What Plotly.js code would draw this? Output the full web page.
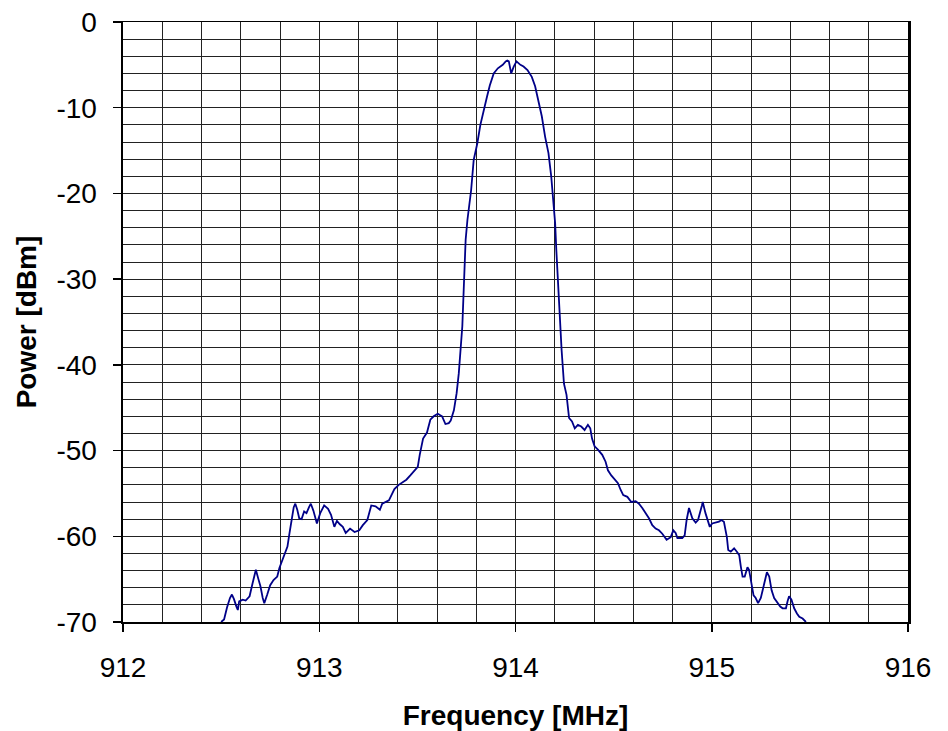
<!DOCTYPE html>
<html>
<head>
<meta charset="utf-8">
<script src="https://cdn.plot.ly/plotly-3.0.1.min.js"></script>
<style>html,body{margin:0;padding:0;background:#fff}#chart{width:948px;height:731px}</style>
</head>
<body>
<div id="chart"></div>
<script>
// Frequency [MHz]
const freq = [
912.500,912.515,912.530,912.545,912.555,912.565,912.578,912.585,912.592,912.610,
912.625,912.635,912.645,912.660,912.670,912.677,912.690,912.700,912.712,912.720,
912.735,912.750,912.767,912.786,912.797,912.820,912.838,912.848,912.860,912.870,
912.878,912.888,912.898,912.910,912.923,912.935,912.948,912.957,912.970,912.980,
912.988,913.005,913.025,913.045,913.060,913.077,913.090,913.105,913.120,913.135,
913.157,913.180,913.204,913.222,913.245,913.265,913.287,913.309,913.321,913.355,
913.383,913.405,913.444,913.464,913.485,913.502,913.512,913.529,913.549,913.566,
913.583,913.604,913.626,913.643,913.660,913.670,913.686,913.700,913.711,913.723,
913.729,913.736,913.741,913.746,913.755,913.774,913.787,913.805,913.821,913.835,
913.855,913.869,913.889,913.910,913.935,913.950,913.958,913.966,913.978,913.991,
914.005,914.025,914.041,914.061,914.083,914.100,914.117,914.134,914.151,914.168,
914.182,914.193,914.202,914.208,914.213,914.223,914.235,914.247,914.260,914.273,
914.288,914.302,914.318,914.335,914.352,914.369,914.381,914.390,914.403,914.420,
914.442,914.459,914.471,914.488,914.505,914.522,914.536,914.549,914.570,914.590,
914.612,914.629,914.646,914.663,914.680,914.697,914.714,914.731,914.748,914.770,
914.791,914.804,914.816,914.825,914.850,914.862,914.872,914.884,914.901,914.918,
914.930,914.950,914.954,914.968,914.990,915.002,915.019,915.037,915.049,915.062,
915.077,915.084,915.097,915.114,915.128,915.140,915.148,915.157,915.168,915.182,
915.190,915.199,915.213,915.224,915.236,915.250,915.263,915.281,915.293,915.305,
915.318,915.335,915.349,915.361,915.378,915.386,915.394,915.406,915.420,915.434,
915.446,915.463,915.480
];
// Power [dBm]
const power = [
-70.0,-69.7,-68.3,-67.2,-66.8,-67.3,-68.2,-68.6,-67.6,-67.4,
-67.5,-67.2,-67.0,-65.5,-64.3,-63.9,-65.0,-65.8,-67.2,-67.8,
-66.8,-65.7,-65.1,-64.7,-63.7,-62.4,-61.2,-59.7,-57.7,-56.6,
-56.2,-56.9,-57.9,-58.0,-57.1,-57.3,-56.6,-56.2,-57.0,-58.0,
-58.5,-57.3,-56.4,-56.8,-57.5,-58.9,-58.2,-58.6,-58.9,-59.6,
-59.1,-59.5,-59.3,-58.7,-58.1,-56.4,-56.5,-56.9,-56.2,-55.8,
-54.5,-54.0,-53.4,-52.9,-52.3,-51.9,-50.5,-48.6,-47.9,-46.4,
-46.0,-45.7,-46.0,-46.9,-46.8,-46.5,-45.3,-43.3,-41.0,-37.9,
-35.5,-31.3,-28.2,-25.4,-23.1,-19.6,-16.1,-14.2,-12.0,-10.5,
-8.7,-7.4,-6.0,-5.4,-5.0,-4.6,-4.5,-4.6,-6.0,-5.2,
-4.6,-5.0,-5.2,-5.6,-6.4,-7.5,-9.1,-11.0,-13.4,-15.3,
-18.0,-20.8,-23.5,-26.6,-28.9,-33.2,-38.3,-42.2,-43.5,-46.2,
-46.6,-47.4,-47.0,-47.2,-47.6,-47.0,-47.4,-48.6,-49.5,-49.9,
-50.5,-51.3,-52.3,-52.9,-53.4,-53.8,-54.6,-55.2,-55.4,-56.0,
-55.9,-56.2,-56.7,-57.3,-57.9,-58.7,-59.1,-59.3,-59.7,-60.4,
-60.1,-59.3,-59.6,-60.2,-60.2,-59.9,-58.1,-56.7,-57.9,-58.4,
-58.1,-56.4,-56.0,-57.3,-58.9,-58.5,-58.4,-58.3,-58.1,-58.3,
-60.1,-61.6,-61.8,-61.4,-61.8,-62.2,-63.5,-64.7,-64.7,-63.6,
-63.9,-65.3,-66.9,-67.2,-67.8,-67.2,-65.9,-64.2,-64.7,-66.3,
-67.2,-67.8,-68.2,-68.4,-68.4,-67.6,-67.0,-67.4,-68.4,-69.0,
-69.4,-69.6,-70.0
];
const xTickVals = [912, 913, 914, 915, 916];
const xTickText = ["912", "913", "914", "915", "916"];
const yTickVals = [0, -10, -20, -30, -40, -50, -60, -70];
const yTickText = ["0", "-10", "-20", "-30", "-40", "-50", "-60", "-70"];

const trace = {
  x: freq, y: power, type: 'scatter', mode: 'lines',
  line: {color: '#000088', width: 1.8},
  cliponaxis: true, hoverinfo: 'skip'
};
const font = {family: 'Liberation Sans, Arial, sans-serif', size: 28, color: '#000'};
const layout = {
  width: 948, height: 731,
  margin: {l: 123, r: 40, t: 22, b: 109},
  paper_bgcolor: '#fff', plot_bgcolor: '#fff',
  showlegend: false,
  font: font,
  xaxis: {
    range: [912, 916], tickmode: 'array', tickvals: xTickVals, ticktext: xTickText,
    ticks: 'outside', ticklen: 8, tickwidth: 1.5, tickcolor: '#000',
    ticklabelstandoff: 12,
    showgrid: true, gridcolor: '#222', gridwidth: 1,
    minor: {dtick: 0.2, showgrid: true, gridcolor: '#222', gridwidth: 1, ticks: ''},
    showline: true, linecolor: '#000', linewidth: 1.5, mirror: true,
    zeroline: false, tickfont: font,
    title: {text: '<b>Frequency [MHz]</b>', font: font, standoff: 24}
  },
  yaxis: {
    range: [-70, 0], tickmode: 'array', tickvals: yTickVals, ticktext: yTickText,
    ticks: 'outside', ticklen: 8, tickwidth: 1.5, tickcolor: '#000',
    ticklabelstandoff: 10,
    showgrid: true, gridcolor: '#222', gridwidth: 1,
    minor: {dtick: 2, showgrid: true, gridcolor: '#222', gridwidth: 1, ticks: ''},
    showline: true, linecolor: '#000', linewidth: 2.5, mirror: true,
    zeroline: false, tickfont: font,
    title: {text: '<b>Power [dBm]</b>', font: font, standoff: 12}
  }
};
Plotly.newPlot('chart', [trace], layout, {staticPlot: true, displayModeBar: false});
</script>
</body>
</html>
